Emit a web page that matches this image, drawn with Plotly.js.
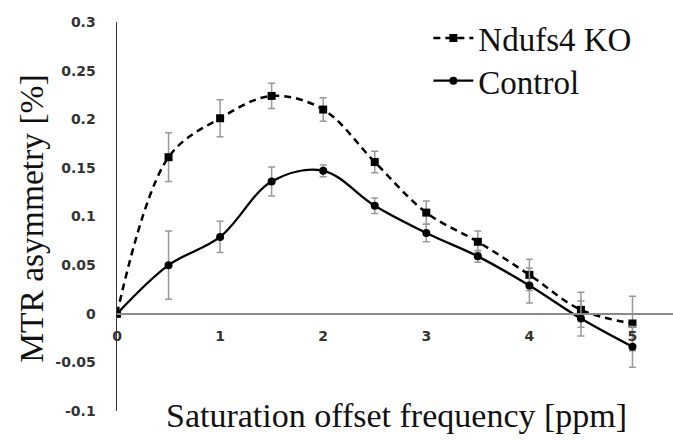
<!DOCTYPE html>
<html>
<head>
<meta charset="utf-8">
<script src="https://cdn.plot.ly/plotly-3.0.1.min.js"></script>
<style>html,body{margin:0;padding:0;background:#fff;}#chart{width:673px;height:440px;}</style>
</head>
<body>
<div id="chart"></div>
<script>
// Data
const offsets = [0, 0.5, 1, 1.5, 2, 2.5, 3, 3.5, 4, 4.5, 5];
const koValues = [0, 0.161, 0.201, 0.224, 0.210, 0.156, 0.104, 0.074, 0.040, 0.004, -0.010];
const koErrors = [0, 0.025, 0.019, 0.013, 0.012, 0.011, 0.012, 0.011, 0.016, 0.018, 0.028];
const ctrlValues = [0, 0.050, 0.079, 0.136, 0.147, 0.111, 0.083, 0.059, 0.029, -0.005, -0.034];
const ctrlErrors = [0, 0.035, 0.016, 0.015, 0.006, 0.008, 0.009, 0.006, 0.018, 0.018, 0.021];
const xTicks = [0, 1, 2, 3, 4, 5];
const yTicks = [-0.1, -0.05, 0, 0.05, 0.1, 0.15, 0.2, 0.25, 0.3];
const yTickText = ['-0.1', '-0.05', '0', '0.05', '0.1', '0.15', '0.2', '0.25', '0.3'];
const seriesNames = ['Ndufs4 KO', 'Control'];
const xTitle = 'Saturation offset frequency [ppm]';
const yTitle = 'MTR asymmetry [%]';

const serif = 'Liberation Serif';
const tickFont = {family: 'DejaVu Sans', size: 14, color: '#333', weight: 'bold'};
const legendFont = {family: 'Liberation Serif', size: 33, color: '#111'};

const traces = [
  {
    x: offsets, y: koValues, name: seriesNames[0], type: 'scatter', mode: 'lines+markers',
    legend: 'legend',
    line: {color: '#000', width: 2.5, dash: '7px,5px', shape: 'spline', smoothing: 1},
    marker: {symbol: 'square', size: 8, color: '#000'},
    error_y: {type: 'data', array: koErrors, visible: true, color: '#999', thickness: 1.5, width: 3.5}
  },
  {
    x: offsets, y: ctrlValues, name: seriesNames[1], type: 'scatter', mode: 'lines+markers',
    legend: 'legend2',
    line: {color: '#000', width: 2.3, shape: 'spline', smoothing: 1},
    marker: {symbol: 'circle', size: 8, color: '#000'},
    error_y: {type: 'data', array: ctrlErrors, visible: true, color: '#999', thickness: 1.5, width: 3.5}
  }
];

const layout = {
  width: 673, height: 440,
  margin: {l: 116.5, r: 0, t: 22, b: 29},
  paper_bgcolor: '#fff', plot_bgcolor: '#fff',
  font: {family: serif, color: '#111'},
  showlegend: true,
  legend: {
    x: 0.56, y: 1.031, xanchor: 'left', yanchor: 'top',
    font: legendFont, bgcolor: 'rgba(0,0,0,0)', itemwidth: 40
  },
  legend2: {
    x: 0.56, y: 0.921, xanchor: 'left', yanchor: 'top',
    font: legendFont, bgcolor: 'rgba(0,0,0,0)', itemwidth: 40
  },
  xaxis: {
    range: [0, 5.393], anchor: 'free', position: 0.25,
    showline: true, linecolor: '#8a8a8a', linewidth: 2,
    showgrid: false, zeroline: false,
    tickvals: xTicks, ticktext: xTicks.map(String), ticks: '',
    tickfont: tickFont, ticklabelstandoff: 9
  },
  yaxis: {
    range: [-0.1, 0.3], domain: [0, 1],
    showline: true, linecolor: '#333', linewidth: 1.5,
    showgrid: false, zeroline: false,
    tickvals: yTicks, ticktext: yTickText, ticks: '',
    tickfont: tickFont, ticklabelstandoff: 17
  },
  annotations: [
    {text: xTitle, xref: 'paper', yref: 'paper', x: 0.502, y: -0.012,
     xanchor: 'center', yanchor: 'middle', showarrow: false,
     font: {family: serif, size: 34, color: '#111'}},
    {text: yTitle, xref: 'paper', yref: 'paper', x: -0.153, y: 0.494,
     xanchor: 'center', yanchor: 'middle', showarrow: false, textangle: -90,
     font: {family: serif, size: 33.5, color: '#111'}}
  ]
};

Plotly.newPlot('chart', traces, layout, {displayModeBar: false, staticPlot: true});
</script>
</body>
</html>
